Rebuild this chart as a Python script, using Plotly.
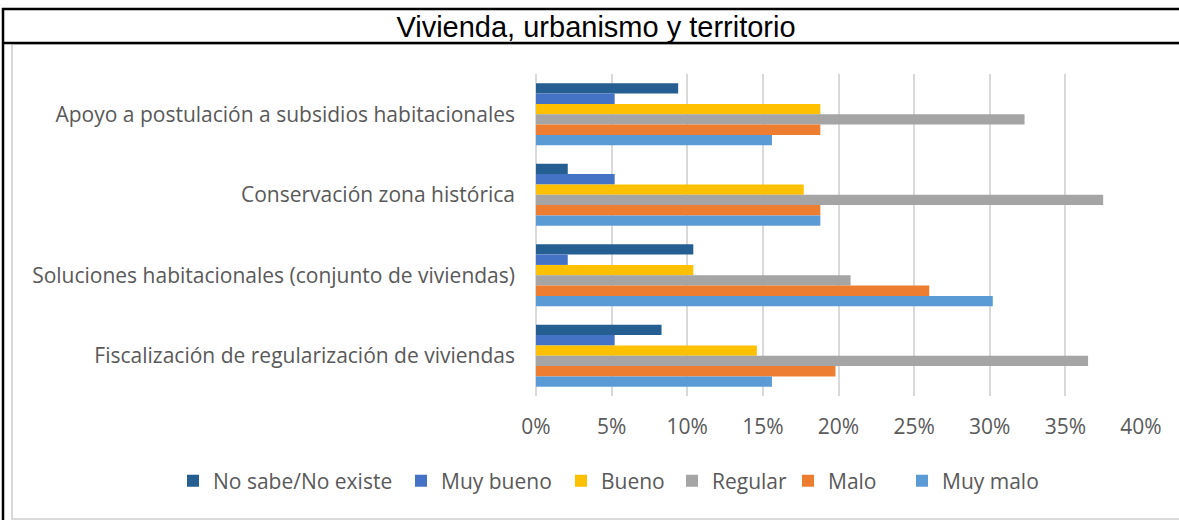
import plotly.graph_objects as go

categories = [
    "Apoyo a postulación a subsidios habitacionales",
    "Conservación zona histórica",
    "Soluciones habitacionales (conjunto de viviendas)",
    "Fiscalización de regularización de viviendas",
]
series_names = ["No sabe/No existe", "Muy bueno", "Bueno", "Regular", "Malo", "Muy malo"]
no_sabe = [0.094, 0.021, 0.104, 0.083]
muy_bueno = [0.052, 0.052, 0.021, 0.052]
bueno = [0.188, 0.177, 0.104, 0.146]
regular = [0.323, 0.375, 0.208, 0.365]
malo = [0.188, 0.188, 0.260, 0.198]
muy_malo = [0.156, 0.188, 0.302, 0.156]
series_values = [no_sabe, muy_bueno, bueno, regular, malo, muy_malo]
colors = ["#255E91", "#4472C4", "#FFC000", "#A5A5A5", "#ED7D31", "#5B9BD5"]
tick_vals = [0, 0.05, 0.10, 0.15, 0.20, 0.25, 0.30, 0.35, 0.40]
tick_text = ["0%", "5%", "10%", "15%", "20%", "25%", "30%", "35%", "40%"]
title_text = "Vivienda, urbanismo y territorio"

W, H = 1179, 520
L, R, T, B = 536, 1141, 74, 396
legend_swatch_x = [190, 418, 578, 689, 805, 919]  # layout: left edge of each legend swatch (px)

def px(x):
    return (x - L) / (R - L)

def py(y):
    return (B - y) / (B - T)

fig = go.Figure()
legend_ids = ["legend"] + ["legend%d" % i for i in range(2, len(series_names) + 1)]
for name, vals, col, lid in zip(series_names, series_values, colors, legend_ids):
    fig.add_trace(go.Bar(
        y=categories, x=vals, name=name, orientation="h", legend=lid,
        marker=dict(color=col, line=dict(width=0)),
    ))

shapes = [
    # gray chart-area border
    dict(type="rect", xref="paper", yref="paper", x0=px(12), x1=px(1200), y0=py(519), y1=py(44),
         line=dict(color="#D9D9D9", width=2), fillcolor="rgba(0,0,0,0)", layer="below"),
    # black title box
    dict(type="line", xref="paper", yref="paper", x0=px(2), x1=px(1200), y0=py(9), y1=py(9),
         line=dict(color="black", width=2.5)),
    dict(type="line", xref="paper", yref="paper", x0=px(2), x1=px(1200), y0=py(43), y1=py(43),
         line=dict(color="black", width=2.5)),
    dict(type="line", xref="paper", yref="paper", x0=px(3), x1=px(3), y0=py(8), y1=py(525),
         line=dict(color="black", width=2.5)),
]

legends = {}
for lid, sx in zip(legend_ids, legend_swatch_x):
    legends[lid] = dict(orientation="h", xref="container", yref="container",
                        x=(sx - 17) / W, xanchor="left", y=1 - 481 / H, yanchor="middle",
                        font=dict(size=21, color="#595959"), itemwidth=30,
                        bgcolor="rgba(0,0,0,0)")

fig.update_layout(
    width=W, height=H,
    margin=dict(l=L, r=W - R, t=T, b=H - B, pad=0, autoexpand=False),
    paper_bgcolor="white", plot_bgcolor="white",
    barmode="group", bargap=0.23, bargroupgap=0,
    font=dict(family="Open Sans", color="#595959", size=21),
    title=dict(text=title_text, x=596 / W, xanchor="center", y=1 - 27 / H, yanchor="middle",
               font=dict(family="Liberation Sans, Arial", size=29, color="black")),
    xaxis=dict(range=[0, 0.40], tickvals=tick_vals, ticktext=tick_text, showgrid=True,
               gridcolor="#D9D9D9", gridwidth=1.5, zeroline=True, zerolinecolor="#D9D9D9",
               zerolinewidth=1.5, showline=False, ticks="", ticklabelstandoff=16,
               tickfont=dict(size=21, color="#595959")),
    yaxis=dict(categoryorder="array", categoryarray=categories, autorange="reversed",
               showgrid=False, zeroline=False, showline=False, ticks="", ticklabelstandoff=20,
               tickfont=dict(size=21, color="#595959")),
    showlegend=True,
    shapes=shapes,
    **legends,
)

fig.write_html("out.html", config={"displayModeBar": False},
               post_script="document.body.style.margin='0px';")
